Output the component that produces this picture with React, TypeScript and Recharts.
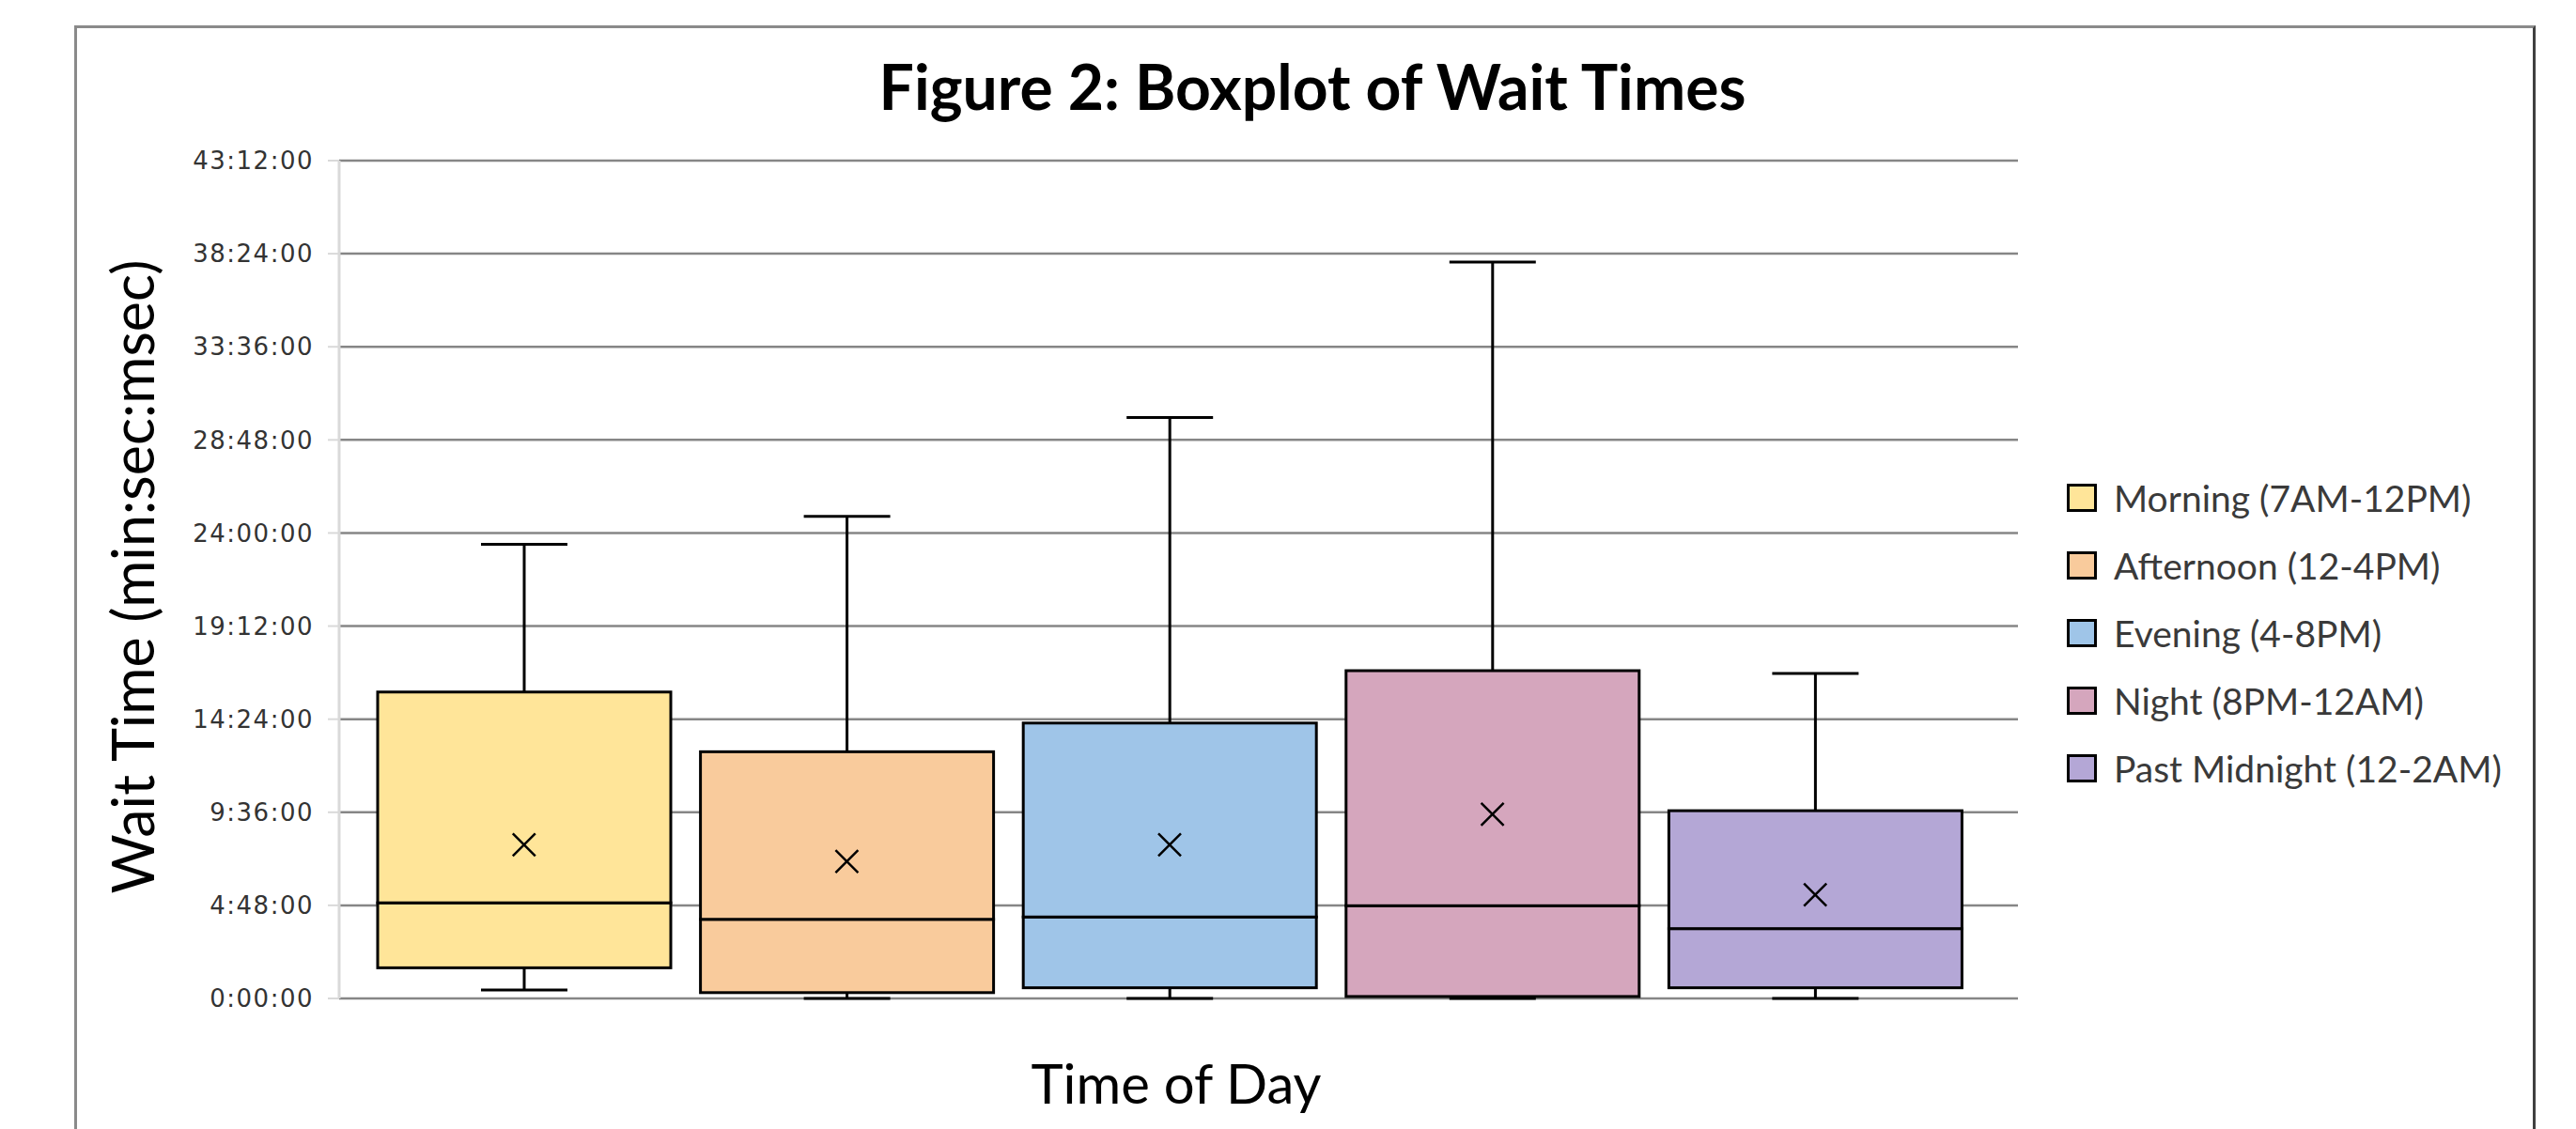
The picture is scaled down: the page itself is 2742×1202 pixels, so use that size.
import React from "react";
import {
  ComposedChart,
  Bar,
  Scatter,
  XAxis,
  YAxis,
  CartesianGrid,
  Legend,
} from "recharts";

// wait times, in the axis' own unit (4.8 => 4:48:00)
const categories = [
  "Morning (7AM-12PM)",
  "Afternoon (12-4PM)",
  "Evening (4-8PM)",
  "Night (8PM-12AM)",
  "Past Midnight (12-2AM)",
];
const minValues = [0.43, 0, 0, 0, 0];
const q1Values = [1.58, 0.3, 0.55, 0.1, 0.55];
const medianValues = [4.93, 4.08, 4.2, 4.78, 3.6];
const q3Values = [15.8, 12.72, 14.2, 16.9, 9.68];
const maxValues = [23.42, 24.86, 29.95, 37.97, 16.76];
const meanValues = [7.93, 7.07, 7.92, 9.5, 5.35];
const colors = ["#FFE599", "#F9CB9C", "#9FC5E8", "#D5A6BD", "#B4A7D6"];
const yTicks = [0, 4.8, 9.6, 14.4, 19.2, 24, 28.8, 33.6, 38.4, 43.2];

const data = categories.map((name, i) => ({
  name,
  color: colors[i],
  base: minValues[i],
  lowWhisker: q1Values[i] - minValues[i],
  boxLow: medianValues[i] - q1Values[i],
  boxHigh: q3Values[i] - medianValues[i],
  highWhisker: maxValues[i] - q3Values[i],
  mean: meanValues[i],
}));

const formatTick = (v: number) => {
  const total = Math.round(v * 60);
  const h = Math.floor(total / 60);
  const m = total % 60;
  return `${h}:${String(m).padStart(2, "0")}:00`;
};

const CAP = 92;

const Empty = () => <g />;

const LowWhisker = (props: any) => {
  const { x, y, width, height } = props;
  const cx = x + width / 2;
  return (
    <g stroke="#000" strokeWidth={3}>
      <line x1={cx} x2={cx} y1={y} y2={y + height} />
      <line x1={cx - CAP / 2} x2={cx + CAP / 2} y1={y + height} y2={y + height} />
    </g>
  );
};

const HighWhisker = (props: any) => {
  const { x, y, width, height } = props;
  const cx = x + width / 2;
  return (
    <g stroke="#000" strokeWidth={3}>
      <line x1={cx} x2={cx} y1={y} y2={y + height} />
      <line x1={cx - CAP / 2} x2={cx + CAP / 2} y1={y} y2={y} />
    </g>
  );
};

const BoxPart = (props: any) => {
  const { x, y, width, height, payload } = props;
  return (
    <rect
      x={x}
      y={y}
      width={width}
      height={height}
      fill={payload.color}
      stroke="#000"
      strokeWidth={3}
    />
  );
};

const MeanMark = (props: any) => {
  const { cx, cy } = props;
  const s = 12;
  return (
    <path
      d={`M${cx - s},${cy - s}L${cx + s},${cy + s}M${cx + s},${cy - s}L${cx - s},${cy + s}`}
      stroke="#000"
      strokeWidth={2.5}
      fill="none"
    />
  );
};

const renderLegend = () => (
  <div>
    {categories.map((c, i) => (
      <div
        key={c}
        style={{ display: "flex", alignItems: "center", height: 72 }}
      >
        <div
          style={{
            width: 26,
            height: 24,
            background: colors[i],
            border: "3px solid #000",
            marginRight: 18,
          }}
        />
        <span
          style={{
            fontFamily: "Lato",
            fontSize: 39,
            color: "#3a3a3a",
            whiteSpace: "nowrap",
          }}
        >
          {c}
        </span>
      </div>
    ))}
  </div>
);

const App = () => {
  return (
    <div
      style={{
        position: "absolute",
        left: 0,
        top: 0,
        width: 2742,
        height: 1202,
        background: "#fff",
        overflow: "hidden",
      }}
    >
      <div
        style={{
          position: "absolute",
          left: 79,
          top: 27,
          width: 2614,
          height: 1300,
          borderLeft: "3px solid #8a8a8a",
          borderTop: "3px solid #8a8a8a",
          borderRight: "3px solid #404040",
        }}
      />
      <div style={{ position: "absolute", left: 0, top: 0 }}>
        <ComposedChart
          width={2742}
          height={1202}
          data={data}
          margin={{ top: 171, right: 594, bottom: 139, left: 261 }}
        >
          <CartesianGrid
            vertical={false}
            stroke="#868686"
            strokeWidth={2.5}
          />
          <XAxis
            dataKey="name"
            hide
            padding={{ left: 25, right: 44 }}
          />
          <YAxis
            width={100}
            domain={[0, 43.2]}
            ticks={yTicks}
            interval={0}
            tickFormatter={formatTick}
            axisLine={{ stroke: "#d9d9d9", strokeWidth: 3 }}
            tickLine={{ stroke: "#d9d9d9", strokeWidth: 2 }}
            tickSize={12}
            tickMargin={15}
            tick={{
              fontFamily: "DejaVu Sans",
              fontSize: 26,
              letterSpacing: 1.5,
              fill: "#333",
            }}
          />
          <Bar dataKey="base" stackId="box" barSize={312} shape={<Empty />} isAnimationActive={false} />
          <Bar dataKey="lowWhisker" stackId="box" barSize={312} shape={<LowWhisker />} isAnimationActive={false} />
          <Bar dataKey="boxLow" stackId="box" barSize={312} shape={<BoxPart />} isAnimationActive={false} />
          <Bar dataKey="boxHigh" stackId="box" barSize={312} shape={<BoxPart />} isAnimationActive={false} />
          <Bar dataKey="highWhisker" stackId="box" barSize={312} shape={<HighWhisker />} isAnimationActive={false} />
          <Scatter dataKey="mean" shape={<MeanMark />} isAnimationActive={false} />
          <Legend
            layout="vertical"
            align="center"
            verticalAlign="middle"
            content={renderLegend}
            wrapperStyle={{ position: "absolute", left: 2200, top: 494, width: 540, height: 360 }}
          />
        </ComposedChart>
      </div>
      <svg
        width={2742}
        height={1202}
        style={{ position: "absolute", left: 0, top: 0, pointerEvents: "none" }}
      >
        <text
          x={1397}
          y={117}
          textAnchor="middle"
          fontFamily="Lato"
          fontWeight="bold"
          fontSize={66}
          fill="#000"
        >
          Figure 2: Boxplot of Wait Times
        </text>
        <text
          x={1252}
          y={1175}
          textAnchor="middle"
          fontFamily="Lato"
          fontSize={58}
          fill="#000"
        >
          Time of Day
        </text>
        <text
          transform="translate(164,614) rotate(-90)"
          textAnchor="middle"
          fontFamily="Lato"
          fontSize={61}
          fill="#000"
        >
          Wait Time (min:sec:msec)
        </text>
      </svg>
    </div>
  );
};

export default App;
